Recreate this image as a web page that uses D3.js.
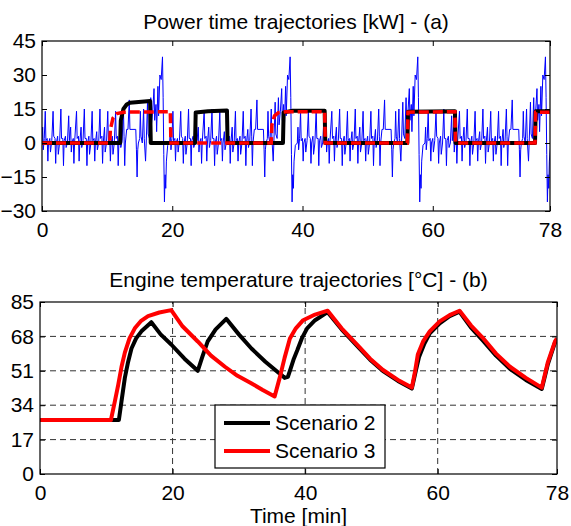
<!DOCTYPE html>
<html>
<head>
<meta charset="utf-8">
<script src="https://cdn.jsdelivr.net/npm/d3@7"></script>
<style>
  body { margin: 0; background: #fff; }
  text { font-family: "Liberation Sans", Arial, sans-serif; fill: #000; }
</style>
</head>
<body>
<div id="chart"></div>
<script>

///////////////////////////////////////////////////////////////////////////
//////////////////////////////// Data /////////////////////////////////////
///////////////////////////////////////////////////////////////////////////

//x ticks shared by both panels [min]
var xTicks = [0, 20, 40, 60, 78];
var powerTicks = [-30, -15, 0, 15, 30, 45];
var tempTicks = [0, 17, 34, 51, 68, 85];

//one drive cycle of the demanded power [min, kW], it repeats 4 times
var cycleLength = 19.6;
var cycleCount = 4;
var demandCycle = [
  [0,0],[0.1,7],[0.2,-3],[0.35,2],[0.5,14],[0.6,1],[0.8,2],[0.9,-8],[1.0,0],[1.2,2],[1.3,-4],[1.5,1],
  [1.7,14],[1.8,3],[2.0,2],[2.1,-9],[2.2,0],[2.4,3],[2.5,-5],[2.7,0],
  [2.9,15],[3.0,2],[3.2,2],[3.3,-10],[3.4,1],[3.6,3],[3.7,-2],[3.9,0],
  [4.1,12],[4.2,1],[4.4,7],[4.5,-4],[4.6,0],[4.8,2],[4.9,-9],[5.0,0],
  [5.3,14],[5.4,2],[5.6,3],[5.7,-8],[5.8,0],[6.0,7],[6.1,-2],[6.3,1],
  [6.5,15],[6.6,2],[6.8,2],[6.9,-10],[7.0,0],[7.2,3],[7.3,-5],[7.5,0],
  [7.7,14],[7.8,1],[8.0,2],[8.1,-8],[8.2,0],[8.4,5],[8.5,-3],[8.7,0],
  [8.9,15],[9.0,2],[9.2,3],[9.3,-9],[9.4,0],[9.6,7],[9.7,-4],[9.9,0],
  [10.1,14],[10.2,1],[10.4,2],[10.5,-8],[10.6,0],[10.8,3],[10.9,-5],[11.1,0],
  [11.3,14],[11.4,2],[11.6,3],[11.7,-10],[11.8,0],[12.0,6],[12.1,-2],[12.3,1],
  [12.5,15],[12.6,3],[12.7,-10],[12.8,0],[13.0,6],[13.2,6],[13.4,19],[13.5,6],[14.4,6],
  [14.5,-3],[14.6,-15],[14.7,-3],[14.8,0],
  [15.0,2],[15.1,14],[15.2,3],[15.4,0],[15.6,15],[15.7,2],[15.9,-8],[16.0,0],
  [16.2,18],[16.3,4],[16.5,2],[16.7,20],[16.8,8],[17.0,14],[17.2,24],[17.3,10],
  [17.5,17],[17.6,5],[17.8,25],[17.9,12],[18.1,30],[18.3,28],[18.5,38],[18.6,20],
  [18.7,-5],[18.8,-26],[18.9,-14],[19.0,-20],[19.1,-8],[19.3,-1],[19.6,0]
];

//engine power, scenario 2 [min, kW]
var power2 = [
  [0,0],[12.0,0],[12.1,10],[12.5,15],[13,17],[13.5,17.8],[16.6,18.5],[16.7,0],
  [23.5,0],[23.6,13.5],[25.5,14],[28.4,14.3],[28.5,0],
  [37.0,0],[37.1,13.5],[38.5,14.2],[43.4,14.2],[43.5,0],
  [56.1,0],[56.2,13.8],[63.4,14],[63.5,0],
  [75.7,0],[75.8,14],[78,14]
];

//engine power, scenario 3 [min, kW]
var power3 = [
  [0,0],[10.4,0],[10.5,6],[10.9,11],[11.5,13],[12.5,13.6],[19.7,13.8],[19.8,0],
  [35.2,0],[35.3,8],[35.7,12],[36.3,13.4],[37.5,13.8],[43.4,13.8],[43.5,0],
  [56.1,0],[56.2,13.6],[63.4,13.8],[63.5,0],
  [75.7,0],[75.8,13.6],[78,13.6]
];

//engine temperature, scenario 2 [min, °C]
var temp2 = [
  [0,26.7],[11.9,26.7],[12.3,36],[12.8,47.5],[13.3,55.5],[13.8,62],[14.5,67],[15.3,70.5],[16.8,75],
  [18.2,69],[19.8,64],[21.8,57],[23.8,51],
  [24.5,58],[25.3,65.5],[26.5,71.5],[28.1,76.7],
  [30,69],[31.9,62],[34,55.5],[35.9,50.3],[36.4,49],[36.9,47.5],[37.4,48],
  [37.8,52],[38.3,57],[38.8,61],[39.5,67],[40.3,72],[41.5,76],[43.4,80],
  [45.5,71.5],[47.8,63.5],[49.8,56.5],[51.7,51],[54,46],[56.1,42.2],
  [56.7,51],[57.2,58],[58,64.5],[58.8,69.5],[60.3,74.5],[61.8,78],[63.3,80.2],
  [65,72.5],[66.8,66],[68.8,58.5],[70.9,52],[73.3,46.5],[75.7,42],
  [76.6,54],[77.7,65],[78,66.5]
];

//engine temperature, scenario 3 [min, °C]
var temp3 = [
  [0,26.7],[10.7,26.7],[11.3,36],[11.8,44],[12.3,53],[12.8,60],[13.5,67],[14.3,72],[15.2,75.5],
  [16.3,78],[18,79.8],[19.8,81],
  [21.5,73],[23.8,65.5],[25.8,58.5],[27.9,53],[29.8,48.5],[31.8,45],[33.6,41.5],[35.4,38.3],
  [36.2,48],[36.9,57.4],[37.7,67],[38.6,72],[39.7,76],[41.5,78.8],[43.4,80.7],
  [45.5,72],[47.8,64],[49.8,57],[51.7,51.5],[54,46.5],[56.1,42.7],
  [56.6,51],[57,59],[57.8,65.5],[58.8,70.5],[60.3,75.4],[61.8,78.5],[63.3,80.7],
  [65,73.5],[66.8,67.3],[68.8,59.5],[70.9,53],[73.3,47.5],[75.7,42.7],
  [76.6,55],[77.7,65.5],[78,67]
];

var legendNames = ["Scenario 2", "Scenario 3"];
var legendColors = ["#000000", "#ff0000"];

//the demand signal is the drive cycle played back to back
var demand = [];
for (var c = 0; c < cycleCount; c++) {
  demandCycle.forEach(function (d) {
    demand.push([d[0] + c * cycleLength, d[1]]);
  });
}

///////////////////////////////////////////////////////////////////////////
//////////////////////////////// SVG //////////////////////////////////////
///////////////////////////////////////////////////////////////////////////

var fontSize = 21;

var svg = d3.select("#chart").append("svg")
  .attr("width", 571)
  .attr("height", 526);

svg.append("rect").attr("width", 571).attr("height", 526).attr("fill", "#fff");

//draws the frame, inward ticks on all four sides and labels
function drawAxes(g, x, y, yTicks) {
  var x0 = x.range()[0], x1 = x.range()[1];
  var y0 = y.range()[0], y1 = y.range()[1];

  g.append("g").attr("transform", "translate(0," + y0 + ")")
    .call(d3.axisBottom(x).tickValues(xTicks).tickSizeInner(-5).tickSizeOuter(0).tickPadding(11))
    .call(function (a) { a.select(".domain").remove(); });
  g.append("g").attr("transform", "translate(0," + y1 + ")")
    .call(d3.axisTop(x).tickValues(xTicks).tickSizeInner(-5).tickSizeOuter(0).tickFormat(""))
    .call(function (a) { a.select(".domain").remove(); });
  g.append("g").attr("transform", "translate(" + x0 + ",0)")
    .call(d3.axisLeft(y).tickValues(yTicks).tickSizeInner(-5).tickSizeOuter(0).tickPadding(6))
    .call(function (a) { a.select(".domain").remove(); });
  g.append("g").attr("transform", "translate(" + x1 + ",0)")
    .call(d3.axisRight(y).tickValues(yTicks).tickSizeInner(-5).tickSizeOuter(0).tickFormat(""))
    .call(function (a) { a.select(".domain").remove(); });

  g.selectAll(".tick line").attr("stroke", "#000");
  g.selectAll(".tick text")
    .style("font-family", "'Liberation Sans', Arial, sans-serif")
    .style("font-size", fontSize + "px")
    .attr("fill", "#000");

  g.append("rect")
    .attr("x", x0).attr("y", y1)
    .attr("width", x1 - x0).attr("height", y0 - y1)
    .attr("fill", "none").attr("stroke", "#000").attr("stroke-width", 1.2);
}

function clipFor(id, x, y) {
  svg.append("clipPath").attr("id", id).append("rect")
    .attr("x", x.range()[0]).attr("y", y.range()[1])
    .attr("width", x.range()[1] - x.range()[0])
    .attr("height", y.range()[0] - y.range()[1]);
}

///////////////////////////////////////////////////////////////////////////
//////////////////////////// Panel (a) power //////////////////////////////
///////////////////////////////////////////////////////////////////////////

var xA = d3.scaleLinear().domain([0, 78]).range([42, 550]);
var yA = d3.scaleLinear().domain([-30, 45]).range([211, 41]);
var lineA = d3.line().x(function (d) { return xA(d[0]); }).y(function (d) { return yA(d[1]); });

clipFor("clipA", xA, yA);
var gA = svg.append("g");

var plotA = gA.append("g").attr("clip-path", "url(#clipA)");
plotA.append("path").datum(demand)
  .attr("d", lineA).attr("fill", "none")
  .attr("stroke", "#0000ff").attr("stroke-width", 1);
plotA.append("path").datum(power2)
  .attr("d", lineA).attr("fill", "none")
  .attr("stroke", "#000").attr("stroke-width", 4).attr("stroke-linejoin", "round");
plotA.append("path").datum(power3)
  .attr("d", lineA).attr("fill", "none")
  .attr("stroke", "#ff0000").attr("stroke-width", 3.5)
  .attr("stroke-dasharray", "10,4");

drawAxes(gA, xA, yA, powerTicks);

svg.append("text")
  .attr("x", (xA.range()[0] + xA.range()[1]) / 2).attr("y", 29)
  .attr("text-anchor", "middle").style("font-size", fontSize + "px")
  .text("Power time trajectories [kW] - (a)");

///////////////////////////////////////////////////////////////////////////
///////////////////////// Panel (b) temperature ///////////////////////////
///////////////////////////////////////////////////////////////////////////

var xB = d3.scaleLinear().domain([0, 78]).range([40, 557]);
var yB = d3.scaleLinear().domain([0, 85]).range([474, 302]);
var lineB = d3.line().x(function (d) { return xB(d[0]); }).y(function (d) { return yB(d[1]); });

clipFor("clipB", xB, yB);
var gB = svg.append("g");

//dashed grid
var grid = gB.append("g").attr("class", "grid");
grid.selectAll(".vgrid").data(xTicks.slice(1, -1)).enter().append("line")
  .attr("x1", function (d) { return xB(d); }).attr("x2", function (d) { return xB(d); })
  .attr("y1", yB.range()[0]).attr("y2", yB.range()[1]);
grid.selectAll(".hgrid").data(tempTicks.slice(1, -1)).enter().append("line")
  .attr("y1", function (d) { return yB(d); }).attr("y2", function (d) { return yB(d); })
  .attr("x1", xB.range()[0]).attr("x2", xB.range()[1]);
grid.selectAll("line")
  .attr("stroke", "#333").attr("stroke-width", 1).attr("stroke-dasharray", "6,4");

var plotB = gB.append("g").attr("clip-path", "url(#clipB)");
plotB.append("path").datum(temp2)
  .attr("d", lineB).attr("fill", "none")
  .attr("stroke", "#000").attr("stroke-width", 4).attr("stroke-linejoin", "round");
plotB.append("path").datum(temp3)
  .attr("d", lineB).attr("fill", "none")
  .attr("stroke", "#ff0000").attr("stroke-width", 4).attr("stroke-linejoin", "round");

drawAxes(gB, xB, yB, tempTicks);

svg.append("text")
  .attr("x", (xB.range()[0] + xB.range()[1]) / 2).attr("y", 287)
  .attr("text-anchor", "middle").style("font-size", fontSize + "px")
  .text("Engine temperature trajectories [°C] - (b)");

svg.append("text")
  .attr("x", (xB.range()[0] + xB.range()[1]) / 2).attr("y", 523)
  .attr("text-anchor", "middle").style("font-size", fontSize + "px")
  .text("Time [min]");

//legend
var legend = svg.append("g").attr("transform", "translate(215,405)");
legend.append("rect").attr("width", 170).attr("height", 63)
  .attr("fill", "#fff").attr("stroke", "#000").attr("stroke-width", 1.2);
legendNames.forEach(function (name, i) {
  legend.append("line")
    .attr("x1", 9).attr("x2", 55)
    .attr("y1", 18 + i * 28).attr("y2", 18 + i * 28)
    .attr("stroke", legendColors[i]).attr("stroke-width", 4);
  legend.append("text")
    .attr("x", 60).attr("y", 18 + i * 28 + 7)
    .style("font-size", fontSize + "px")
    .text(name);
});

</script>
</body>
</html>
